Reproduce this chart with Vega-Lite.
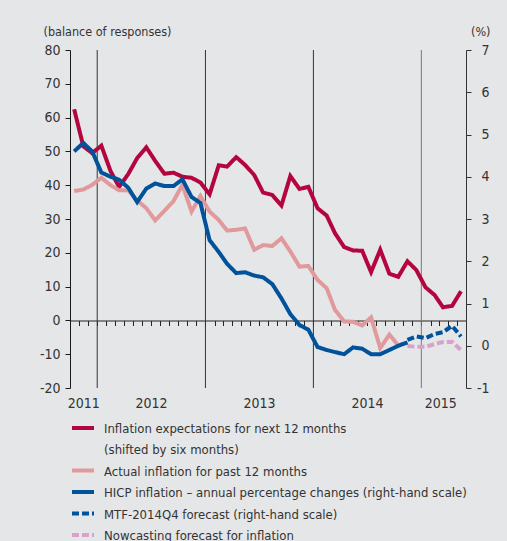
{
  "$schema": "https://vega.github.io/schema/vega-lite/v6.json",
  "width": 396,
  "height": 338,
  "autosize": "none",
  "padding": {"left": 70, "top": 50, "right": 41, "bottom": 153},
  "background": "#e5e6e8",
  "config": {
    "view": {"stroke": null},
    "font": "DejaVu Sans Condensed",
    "axis": {"labelFont": "DejaVu Sans Condensed", "titleFont": "DejaVu Sans Condensed", "labelColor": "#333333", "titleColor": "#333333", "grid": false}
  },
  "datasets": {
    "years": [{"d": "2012-01-01"}, {"d": "2013-01-01"}, {"d": "2014-01-01"}, {"d": "2015-01-01"}],
    "left": [
      {"s": "exp", "d": "2011-10-15", "v": 62.5}, {"s": "exp", "d": "2011-11-15", "v": 51.5}, {"s": "exp", "d": "2011-12-15", "v": 49.5},
      {"s": "exp", "d": "2012-01-15", "v": 51.7}, {"s": "exp", "d": "2012-02-15", "v": 44.2}, {"s": "exp", "d": "2012-03-15", "v": 39.5},
      {"s": "exp", "d": "2012-04-15", "v": 43.3}, {"s": "exp", "d": "2012-05-15", "v": 48}, {"s": "exp", "d": "2012-06-15", "v": 51.2},
      {"s": "exp", "d": "2012-07-15", "v": 47.2}, {"s": "exp", "d": "2012-08-15", "v": 43.4}, {"s": "exp", "d": "2012-09-15", "v": 43.7},
      {"s": "exp", "d": "2012-10-15", "v": 42.5}, {"s": "exp", "d": "2012-11-15", "v": 42.2}, {"s": "exp", "d": "2012-12-15", "v": 40.8},
      {"s": "exp", "d": "2013-01-15", "v": 37.3}, {"s": "exp", "d": "2013-02-15", "v": 45.9}, {"s": "exp", "d": "2013-03-15", "v": 45.5},
      {"s": "exp", "d": "2013-04-15", "v": 48.3}, {"s": "exp", "d": "2013-05-15", "v": 46}, {"s": "exp", "d": "2013-06-15", "v": 43},
      {"s": "exp", "d": "2013-07-15", "v": 37.8}, {"s": "exp", "d": "2013-08-15", "v": 37.1}, {"s": "exp", "d": "2013-09-15", "v": 34},
      {"s": "exp", "d": "2013-10-15", "v": 42.7}, {"s": "exp", "d": "2013-11-15", "v": 38.9}, {"s": "exp", "d": "2013-12-15", "v": 39.5},
      {"s": "exp", "d": "2014-01-15", "v": 33.2}, {"s": "exp", "d": "2014-02-15", "v": 31}, {"s": "exp", "d": "2014-03-15", "v": 25.8},
      {"s": "exp", "d": "2014-04-15", "v": 21.7}, {"s": "exp", "d": "2014-05-15", "v": 20.7}, {"s": "exp", "d": "2014-06-15", "v": 20.6},
      {"s": "exp", "d": "2014-07-15", "v": 14.3}, {"s": "exp", "d": "2014-08-15", "v": 20.9}, {"s": "exp", "d": "2014-09-15", "v": 13.8},
      {"s": "exp", "d": "2014-10-15", "v": 12.9}, {"s": "exp", "d": "2014-11-15", "v": 17.5}, {"s": "exp", "d": "2014-12-15", "v": 14.9},
      {"s": "exp", "d": "2015-01-15", "v": 9.8}, {"s": "exp", "d": "2015-02-15", "v": 7.5}, {"s": "exp", "d": "2015-03-15", "v": 3.9},
      {"s": "exp", "d": "2015-04-15", "v": 4.3}, {"s": "exp", "d": "2015-05-15", "v": 8.6},
      {"s": "act", "d": "2011-10-15", "v": 38.3}, {"s": "act", "d": "2011-11-15", "v": 38.7}, {"s": "act", "d": "2011-12-15", "v": 40.1},
      {"s": "act", "d": "2012-01-15", "v": 42.2}, {"s": "act", "d": "2012-02-15", "v": 40}, {"s": "act", "d": "2012-03-15", "v": 38.5},
      {"s": "act", "d": "2012-04-15", "v": 38.5}, {"s": "act", "d": "2012-05-15", "v": 35.5}, {"s": "act", "d": "2012-06-15", "v": 33.2},
      {"s": "act", "d": "2012-07-15", "v": 29.6}, {"s": "act", "d": "2012-08-15", "v": 32.4}, {"s": "act", "d": "2012-09-15", "v": 35.3},
      {"s": "act", "d": "2012-10-15", "v": 40.1}, {"s": "act", "d": "2012-11-15", "v": 32.2}, {"s": "act", "d": "2012-12-15", "v": 36.8},
      {"s": "act", "d": "2013-01-15", "v": 32.2}, {"s": "act", "d": "2013-02-15", "v": 29.7}, {"s": "act", "d": "2013-03-15", "v": 26.6},
      {"s": "act", "d": "2013-04-15", "v": 26.8}, {"s": "act", "d": "2013-05-15", "v": 27.2}, {"s": "act", "d": "2013-06-15", "v": 20.9},
      {"s": "act", "d": "2013-07-15", "v": 22.3}, {"s": "act", "d": "2013-08-15", "v": 22}, {"s": "act", "d": "2013-09-15", "v": 24.3},
      {"s": "act", "d": "2013-10-15", "v": 20.4}, {"s": "act", "d": "2013-11-15", "v": 15.9}, {"s": "act", "d": "2013-12-15", "v": 16.1},
      {"s": "act", "d": "2014-01-15", "v": 12}, {"s": "act", "d": "2014-02-15", "v": 9.5}, {"s": "act", "d": "2014-03-15", "v": 3.1},
      {"s": "act", "d": "2014-04-15", "v": -0.3}, {"s": "act", "d": "2014-05-15", "v": -0.4}, {"s": "act", "d": "2014-06-15", "v": -1.5},
      {"s": "act", "d": "2014-07-15", "v": 0.9}, {"s": "act", "d": "2014-08-15", "v": -8.2}, {"s": "act", "d": "2014-09-15", "v": -4.2},
      {"s": "act", "d": "2014-10-15", "v": -7.4}, {"s": "act", "d": "2014-11-15", "v": -6.6},
      {"s": "now", "d": "2014-11-15", "v": -7.6}, {"s": "now", "d": "2014-12-15", "v": -7.8}, {"s": "now", "d": "2015-01-15", "v": -7.8},
      {"s": "now", "d": "2015-02-15", "v": -7.0}, {"s": "now", "d": "2015-03-15", "v": -6.4}, {"s": "now", "d": "2015-04-15", "v": -6.3},
      {"s": "now", "d": "2015-05-15", "v": -8.8}
    ],
    "right": [
      {"s": "hicp", "d": "2011-10-15", "v": 4.6}, {"s": "hicp", "d": "2011-11-15", "v": 4.8}, {"s": "hicp", "d": "2011-12-15", "v": 4.6},
      {"s": "hicp", "d": "2012-01-15", "v": 4.1}, {"s": "hicp", "d": "2012-02-15", "v": 4.0}, {"s": "hicp", "d": "2012-03-15", "v": 3.93},
      {"s": "hicp", "d": "2012-04-15", "v": 3.74}, {"s": "hicp", "d": "2012-05-15", "v": 3.4}, {"s": "hicp", "d": "2012-06-15", "v": 3.72},
      {"s": "hicp", "d": "2012-07-15", "v": 3.84}, {"s": "hicp", "d": "2012-08-15", "v": 3.78}, {"s": "hicp", "d": "2012-09-15", "v": 3.78},
      {"s": "hicp", "d": "2012-10-15", "v": 3.94}, {"s": "hicp", "d": "2012-11-15", "v": 3.52}, {"s": "hicp", "d": "2012-12-15", "v": 3.38},
      {"s": "hicp", "d": "2013-01-15", "v": 2.5}, {"s": "hicp", "d": "2013-02-15", "v": 2.22}, {"s": "hicp", "d": "2013-03-15", "v": 1.94},
      {"s": "hicp", "d": "2013-04-15", "v": 1.72}, {"s": "hicp", "d": "2013-05-15", "v": 1.74}, {"s": "hicp", "d": "2013-06-15", "v": 1.66},
      {"s": "hicp", "d": "2013-07-15", "v": 1.62}, {"s": "hicp", "d": "2013-08-15", "v": 1.46}, {"s": "hicp", "d": "2013-09-15", "v": 1.12},
      {"s": "hicp", "d": "2013-10-15", "v": 0.75}, {"s": "hicp", "d": "2013-11-15", "v": 0.49}, {"s": "hicp", "d": "2013-12-15", "v": 0.38},
      {"s": "hicp", "d": "2014-01-15", "v": -0.03}, {"s": "hicp", "d": "2014-02-15", "v": -0.1}, {"s": "hicp", "d": "2014-03-15", "v": -0.15},
      {"s": "hicp", "d": "2014-04-15", "v": -0.2}, {"s": "hicp", "d": "2014-05-15", "v": -0.04}, {"s": "hicp", "d": "2014-06-15", "v": -0.07},
      {"s": "hicp", "d": "2014-07-15", "v": -0.2}, {"s": "hicp", "d": "2014-08-15", "v": -0.2}, {"s": "hicp", "d": "2014-09-15", "v": -0.1},
      {"s": "hicp", "d": "2014-10-15", "v": 0.0}, {"s": "hicp", "d": "2014-11-15", "v": 0.08},
      {"s": "mtf", "d": "2014-11-15", "v": 0.14}, {"s": "mtf", "d": "2014-12-15", "v": 0.22}, {"s": "mtf", "d": "2015-01-15", "v": 0.18},
      {"s": "mtf", "d": "2015-02-15", "v": 0.28}, {"s": "mtf", "d": "2015-03-15", "v": 0.32}, {"s": "mtf", "d": "2015-04-15", "v": 0.47},
      {"s": "mtf", "d": "2015-05-15", "v": 0.22}
    ]
  },
  "encoding": {
    "color": {
      "field": "s", "type": "nominal",
      "scale": {"domain": ["exp", "act", "hicp", "mtf", "now"], "range": ["#b4053f", "#e09a9b", "#00529b", "#00529b", "#d9a2cb"]},
      "legend": {
        "orient": "none", "legendX": 0, "legendY": 365, "title": null, "direction": "vertical",
        "symbolType": "stroke", "symbolSize": 484, "symbolStrokeWidth": 4,
        "labelFont": "DejaVu Sans Condensed", "labelFontSize": 13, "labelColor": "#333333", "labelOffset": 8,
        "labelLimit": 500, "padding": 0, "rowPadding": 0.5, "labelBaseline": "alphabetic",
        "labelExpr": "datum.value == 'exp' ? ['Inflation expectations for next 12 months', '(shifted by six months)'] : datum.value == 'act' ? 'Actual inflation for past 12 months' : datum.value == 'hicp' ? 'HICP inflation – annual percentage changes (right-hand scale)' : datum.value == 'mtf' ? 'MTF-2014Q4 forecast (right-hand scale)' : 'Nowcasting forecast for inflation'",
        "encode": {"labels": {"update": {"lineHeight": {"value": 21}, "dy": {"value": 5}}}}
      }
    },
    "strokeDash": {
      "field": "s", "type": "nominal",
      "scale": {"domain": ["exp", "act", "hicp", "mtf", "now"], "range": [[1, 0], [1, 0], [1, 0], [7, 3], [7, 3]]},
      "legend": {
        "orient": "none", "legendX": 0, "legendY": 365, "title": null, "direction": "vertical",
        "symbolType": "stroke", "symbolSize": 484, "symbolStrokeWidth": 4,
        "labelFont": "DejaVu Sans Condensed", "labelFontSize": 13, "labelColor": "#333333", "labelOffset": 8,
        "labelLimit": 500, "padding": 0, "rowPadding": 0.5, "labelBaseline": "alphabetic",
        "labelExpr": "datum.value == 'exp' ? ['Inflation expectations for next 12 months', '(shifted by six months)'] : datum.value == 'act' ? 'Actual inflation for past 12 months' : datum.value == 'hicp' ? 'HICP inflation – annual percentage changes (right-hand scale)' : datum.value == 'mtf' ? 'MTF-2014Q4 forecast (right-hand scale)' : 'Nowcasting forecast for inflation'",
        "encode": {"labels": {"update": {"lineHeight": {"value": 21}, "dy": {"value": 5}}}}
      }
    }
  },
  "layer": [
    {
      "data": {"name": "years"},
      "mark": {"type": "rule", "strokeWidth": 1},
      "encoding": {
        "x": {
          "field": "d", "type": "temporal",
          "scale": {"domain": [{"year": 2011, "month": 10, "date": 1}, {"year": 2015, "month": 6, "date": 1}]},
          "axis": {"orient": "bottom", "offset": -67.5, "tickCount": {"interval": "month", "step": 1}, "labels": false, "title": null, "tickSize": 5, "tickColor": "#222222", "domainColor": "#222222", "tickWidth": 1, "domainWidth": 1}
        },
        "color": {"condition": {"test": "time(datum.d) > time(datetime(2014, 6, 1))", "value": "#777777"}, "value": "#333333"},
        "strokeDash": {"value": [1, 0]}
      }
    },
    {
      "data": {"name": "left"},
      "mark": {"type": "line", "strokeWidth": 4},
      "encoding": {
        "x": {
          "field": "d", "type": "temporal",
          "axis": {
            "orient": "bottom", "title": null, "ticks": false, "domain": false, "labelFlush": false, "labelOverlap": false, "labelBound": false,
            "values": [{"year": 2011, "month": 11, "date": 15}, {"year": 2012, "month": 7, "date": 1}, {"year": 2013, "month": 7, "date": 1}, {"year": 2014, "month": 7, "date": 1}, {"year": 2015, "month": 3, "date": 6}],
            "format": "%Y", "labelFontSize": 14, "labelPadding": 8
          }
        },
        "y": {
          "field": "v", "type": "quantitative",
          "scale": {"domain": [-20, 80], "nice": false, "zero": false},
          "axis": {
            "orient": "left", "values": [-20, -10, 0, 10, 20, 30, 40, 50, 60, 70, 80], "tickSize": 5, "tickColor": "#1a1a1a", "domainColor": "#1a1a1a",
            "labelFontSize": 14, "labelPadding": 5, "labelExpr": "replace(datum.label, '−', '-')",
            "title": "(balance of responses)", "titleAngle": 0, "titleAlign": "left", "titleBaseline": "middle", "titleX": -27, "titleY": -19,
            "titleFontSize": 12.5, "titleFontWeight": "normal"
          }
        }
      }
    },
    {
      "data": {"name": "right"},
      "mark": {"type": "line", "strokeWidth": 4},
      "encoding": {
        "x": {"field": "d", "type": "temporal", "axis": null},
        "y": {
          "field": "v", "type": "quantitative",
          "scale": {"domain": [-1, 7], "nice": false, "zero": false},
          "axis": {
            "orient": "right", "values": [-1, 0, 1, 2, 3, 4, 5, 6, 7], "tickSize": 5, "tickColor": "#333333", "domainColor": "#333333",
            "labelFontSize": 14, "labelPadding": 18, "labelAlign": "right", "labelExpr": "replace(datum.label, '−', '-')",
            "title": "(%)", "titleAngle": 0, "titleAlign": "right", "titleBaseline": "middle", "titleX": 24, "titleY": -19,
            "titleFontSize": 12.5, "titleFontWeight": "normal"
          }
        }
      }
    }
  ],
  "resolve": {"scale": {"y": "independent"}, "axis": {"x": "independent", "y": "independent"}}
}
